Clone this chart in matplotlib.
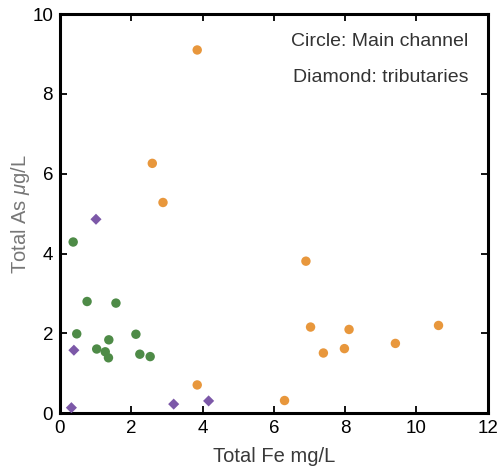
import matplotlib
matplotlib.use('Agg')
import matplotlib.pyplot as plt

plt.rcParams['font.family'] = ['Liberation Sans', 'DejaVu Sans']
plt.rcParams['mathtext.fontset'] = 'custom'
plt.rcParams['mathtext.rm'] = 'Liberation Sans'
plt.rcParams['mathtext.it'] = 'Liberation Sans:italic'

# main channel, orange circles
orange_fe = [3.85, 2.59, 2.89, 3.85, 6.90, 7.03, 7.39, 7.98, 8.11, 9.41, 10.62, 6.30]
orange_as = [9.10, 6.26, 5.28, 0.71, 3.81, 2.16, 1.51, 1.62, 2.10, 1.75, 2.20, 0.32]

# main channel, green circles
green_fe = [0.37, 0.76, 1.57, 0.47, 2.13, 1.03, 1.37, 1.27, 1.36, 2.24, 2.53]
green_as = [4.29, 2.80, 2.76, 1.99, 1.98, 1.61, 1.84, 1.54, 1.39, 1.48, 1.42]

# tributaries, purple diamonds
trib_fe = [1.01, 0.39, 0.32, 3.19, 4.17]
trib_as = [4.86, 1.58, 0.14, 0.23, 0.31]

fig = plt.figure(figsize=(4.97, 4.68), dpi=100)
ax = fig.add_axes([0.1207, 0.1169, 0.8606, 0.8531])

ax.scatter(orange_fe, orange_as, s=46, color='#E8973C', edgecolors='none', zorder=3)
ax.scatter(green_fe, green_as, s=46, color='#4E8B47', edgecolors='none', zorder=3)
ax.scatter(trib_fe, trib_as, s=32, marker='D', color='#7C58A8', edgecolors='none', zorder=3)

ax.set_xlim(0, 12)
ax.set_ylim(0, 10)
ax.set_xticks([0, 2, 4, 6, 8, 10, 12])
ax.set_yticks([0, 2, 4, 6, 8, 10])

for sp in ax.spines.values():
    sp.set_linewidth(2.2)
ax.tick_params(direction='in', length=5, width=1.3, top=True, right=True,
               labelsize=13.5, pad=5)

ax.set_xlabel('Total Fe mg/L', fontsize=14.5, color='#3a3a3a', labelpad=7)
ax.set_ylabel(r'Total As $\mu$g/L', fontsize=14.5, color='#777777', labelpad=0)

ax.text(0.955, 0.93, 'Circle: Main channel', transform=ax.transAxes,
        ha='right', va='center', fontsize=14, color='#333333')
ax.text(0.955, 0.842, 'Diamond: tributaries', transform=ax.transAxes,
        ha='right', va='center', fontsize=14, color='#333333')

fig.savefig('out.png', dpi=100)
